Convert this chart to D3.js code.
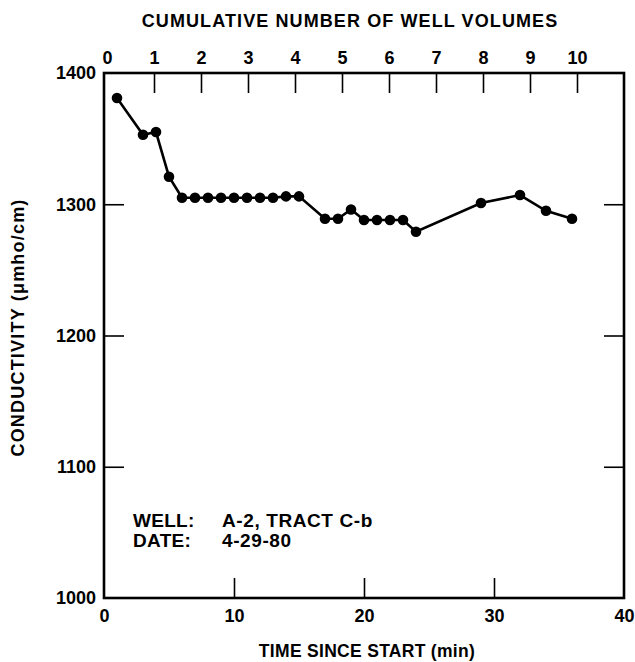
<!DOCTYPE html>
<html><head><meta charset="utf-8">
<script src="https://cdn.jsdelivr.net/npm/d3@7"></script>
<style>body{margin:0;background:#fff}svg{display:block}text{font-family:"Liberation Sans",Arial,sans-serif;font-weight:bold;fill:#000}</style>
</head><body>
<script>
const timeMin = [1,3,4,5,6,7,8,9,10,11,12,13,14,15,17,18,19,20,21,22,23,24,29,32,34,36];
const conductivity = [1381,1353,1355,1321,1305,1305,1305,1305,1305,1305,1305,1305,1306,1306,1289,1289,1296,1288,1288,1288,1288,1279,1301,1307,1295,1289];
const bottomTicks = [0,10,20,30,40];
const leftTicks = [1000,1100,1200,1300,1400];
const topTicks = [0,1,2,3,4,5,6,7,8,9,10];
const annotLabels = ["WELL:", "DATE:"];
const annotValues = ["A-2, TRACT C-b", "4-29-80"];

const W = 635, H = 662;
const m = {l:104, r:11, t:73, b:64};
const FS = 18;
const svg = d3.select("body").append("svg").attr("width", W).attr("height", H);
const x = d3.scaleLinear().domain([0,40]).range([m.l, W - m.r]);
const y = d3.scaleLinear().domain([1000,1400]).range([H - m.b, m.t]);
const xTop = d3.scaleLinear().domain([0,11]).range([107, W - m.r]);
const tl = 20;

// frame
svg.append("rect").attr("x", x(0)).attr("y", y(1400)).attr("width", x(40)-x(0)).attr("height", y(1000)-y(1400))
  .attr("fill","none").attr("stroke","#000").attr("stroke-width",2.6);

function styleText(sel){ sel.attr("font-size",FS).attr("font-family","Liberation Sans, Arial").attr("font-weight","bold").attr("fill","#000"); }

// bottom axis
const bAx = svg.append("g").attr("transform",`translate(0,${y(1000)})`)
  .call(d3.axisBottom(x).tickValues(bottomTicks).tickSize(-tl).tickFormat(d3.format("d")));
bAx.select(".domain").remove();
bAx.selectAll(".tick line").attr("stroke","#000").attr("stroke-width",1.6).filter(d => d===0||d===40).remove();
bAx.selectAll("text").call(styleText).attr("y",11).attr("dy","0.71em");

// left axis
const lAx = svg.append("g").attr("transform",`translate(${x(0)},0)`)
  .call(d3.axisLeft(y).tickValues(leftTicks).tickSize(-tl).tickFormat(d3.format("d")));
lAx.select(".domain").remove();
lAx.selectAll(".tick line").attr("stroke","#000").attr("stroke-width",1.6).filter(d => d===1000||d===1400).remove();
lAx.selectAll("text").call(styleText).attr("x",-8);

// right axis ticks
const rAx = svg.append("g").attr("transform",`translate(${x(40)},0)`)
  .call(d3.axisRight(y).tickValues(leftTicks.filter(d => d>1000 && d<1400)).tickSize(-tl).tickFormat(""));
rAx.select(".domain").remove();
rAx.selectAll(".tick line").attr("stroke","#000").attr("stroke-width",1.6);

// top axis
const tAx = svg.append("g").attr("transform",`translate(0,${y(1400)})`)
  .call(d3.axisTop(xTop).tickValues(topTicks).tickSize(-tl).tickFormat(d3.format("d")));
tAx.select(".domain").remove();
tAx.selectAll(".tick line").attr("stroke","#000").attr("stroke-width",1.6).filter(d => d===0).remove();
tAx.selectAll("text").call(styleText).attr("y",-9).attr("dy","0em");

// titles
svg.append("text").attr("x", 350).attr("y", 27).attr("text-anchor","middle").attr("font-size",FS).attr("letter-spacing",1.1)
  .text("CUMULATIVE NUMBER OF WELL VOLUMES");
svg.append("text").attr("x", 367).attr("y", 657).attr("text-anchor","middle").attr("font-size",17.5).attr("letter-spacing",0.3)
  .text("TIME SINCE START (min)");
svg.append("text").attr("transform",`translate(24,${(y(1000)+y(1400))/2 - 8}) rotate(-90)`).attr("text-anchor","middle").attr("font-size",FS).attr("letter-spacing",1.2)
  .text("CONDUCTIVITY (μmho/cm)");

// annotations
annotLabels.forEach((t,i) => {
  svg.append("text").attr("x",133).attr("y",527 + i*20).attr("font-size",19).attr("letter-spacing",0.3).text(t);
  svg.append("text").attr("x",222).attr("y",527 + i*20).attr("font-size",19).attr("letter-spacing",0.6).text(annotValues[i]);
});

// data
const pts = timeMin.map((t,i) => [t, conductivity[i]]);
svg.append("path").datum(pts).attr("fill","none").attr("stroke","#000").attr("stroke-width",2.6)
  .attr("d", d3.line().x(d => x(d[0])).y(d => y(d[1])));
svg.selectAll("circle.pt").data(pts).join("circle").attr("class","pt")
  .attr("cx", d => x(d[0])).attr("cy", d => y(d[1])).attr("r",5.3).attr("fill","#000");
</script>
</body></html>
